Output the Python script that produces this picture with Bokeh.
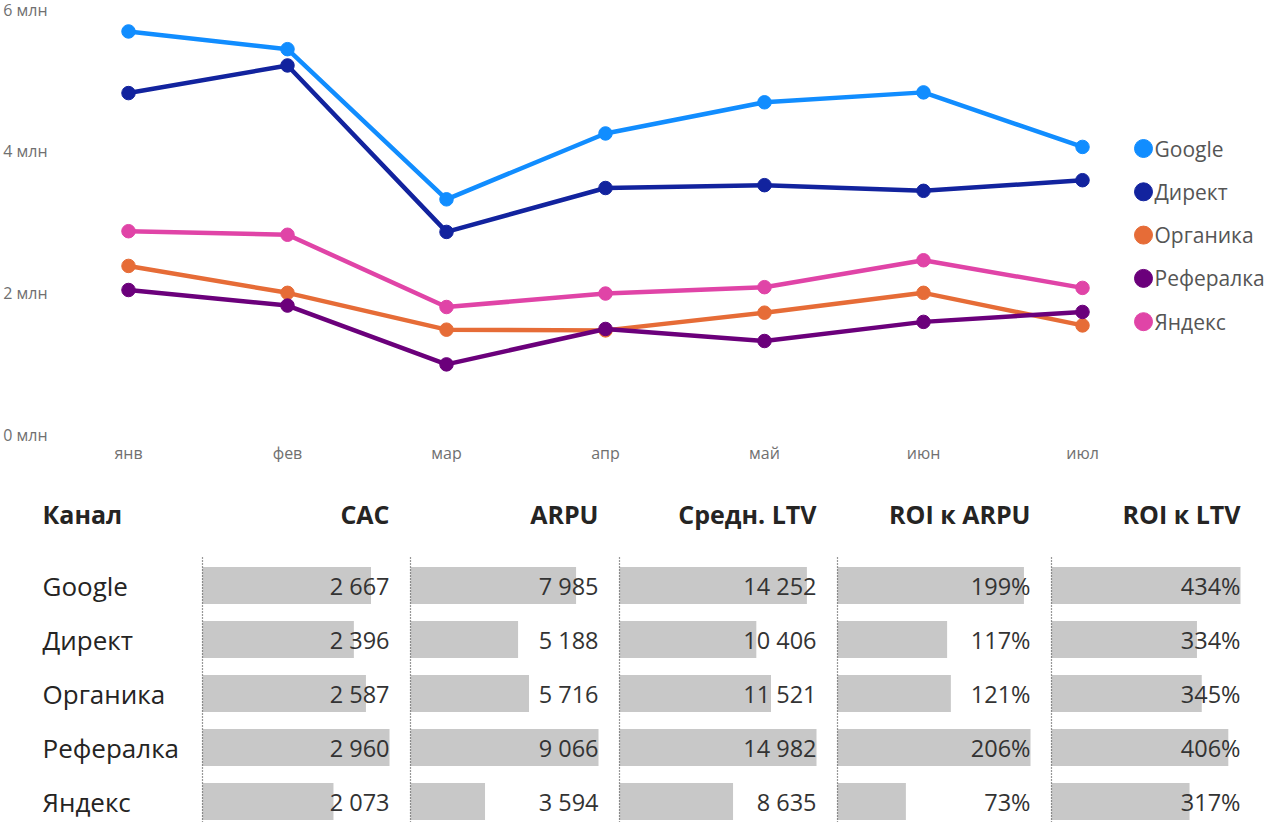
from bokeh.plotting import figure
from bokeh.models import Range1d, ColumnDataSource
from bokeh.layouts import column
from bokeh.core.properties import value
from bokeh.embed import file_html
from bokeh.resources import INLINE

# ---------------- data ----------------
months = ["янв", "фев", "мар", "апр", "май", "июн", "июл"]
channels = ["Google", "Директ", "Органика", "Рефералка", "Яндекс"]
colors = ["#118DFF", "#12239E", "#E66C37", "#6B007B", "#E044A7"]

# monthly revenue, million rubles
google = [5.69, 5.44, 3.32, 4.25, 4.69, 4.83, 4.06]
direkt = [4.82, 5.21, 2.86, 3.48, 3.52, 3.44, 3.59]
organika = [2.38, 2.00, 1.48, 1.47, 1.72, 2.00, 1.54]
referal = [2.04, 1.82, 0.99, 1.49, 1.32, 1.59, 1.73]
yandex = [2.87, 2.82, 1.80, 1.99, 2.08, 2.46, 2.07]
series = [google, direkt, organika, referal, yandex]

y_ticks = [0, 2, 4, 6]
y_tick_labels = ["0 млн", "2 млн", "4 млн", "6 млн"]

# table
headers = ["Канал", "CAC", "ARPU", "Средн. LTV", "ROI к ARPU", "ROI к LTV"]
cac = [2667, 2396, 2587, 2960, 2073]
arpu = [7985, 5188, 5716, 9066, 3594]
ltv = [14252, 10406, 11521, 14982, 8635]
roi_arpu = [199, 117, 121, 206, 73]
roi_ltv = [434, 334, 345, 406, 317]
metrics = [cac, arpu, ltv, roi_arpu, roi_ltv]
is_pct = [False, False, False, True, True]

FONT = "Open Sans"
W = 1264

# ---------------- line chart ----------------
TOP_H = 462
PX_MONTH = 159.0
X0 = 128.0        # px of first month
Y0 = 434.0        # px of zero
Y6 = 9.0          # px of 6 mln
PX_M = (Y0 - Y6) / 6.0

xs = -X0 / PX_MONTH
xe = xs + W / PX_MONTH
ys = -(TOP_H - Y0) / PX_M
ye = ys + TOP_H / PX_M

p = figure(width=W, height=TOP_H, output_backend="svg", toolbar_location=None,
           x_range=Range1d(xs, xe), y_range=Range1d(ys, ye),
           x_axis_location=None, y_axis_location=None, min_border=0)
p.outline_line_color = None
p.grid.visible = False
p.background_fill_color = "white"
p.border_fill_color = "white"

idx = list(range(len(months)))
for name, vals, col in zip(channels, series, colors):
    src = ColumnDataSource(dict(x=idx, y=vals))
    p.line("x", "y", source=src, line_color=col, line_width=4.5)
    p.scatter("x", "y", source=src, size=13.5, fill_color=col, line_color=col)

# pixel-space helpers for axis labels and the legend
p.extra_x_ranges = {"px": Range1d(0, W)}
p.extra_y_ranges = {"py": Range1d(TOP_H, 0)}

MONTH_Y = 452
p.text(idx, [MONTH_Y] * len(idx), text=months, y_range_name="py",
       text_font=value(FONT), text_font_size="16px", text_color="#707070",
       text_baseline="middle", text_align="center")
p.text([47] * len(y_ticks), y_ticks, text=y_tick_labels, x_range_name="px",
       text_font=value(FONT), text_font_size="16px", text_color="#707070",
       text_baseline="middle", text_align="right")

LEG_X = 1143
LEG_Y0 = 148
LEG_DY = 43.3
leg_y = [LEG_Y0 + i * LEG_DY for i in range(len(channels))]
leg = ColumnDataSource(dict(x=[LEG_X] * len(channels), y=leg_y, c=colors, t=channels,
                            tx=[LEG_X + 11] * len(channels)))
p.scatter("x", "y", source=leg, size=18, fill_color="c", line_color="c",
          x_range_name="px", y_range_name="py")
p.text("tx", "y", text="t", source=leg, x_range_name="px", y_range_name="py",
       text_font=value(FONT), text_font_size="21px", text_color="#555555",
       text_baseline="middle", text_align="left")

# ---------------- table ----------------
TH = 360
t = figure(width=W, height=TH, output_backend="svg", toolbar_location=None,
           x_range=Range1d(0, W), y_range=Range1d(TH, 0),
           x_axis_location=None, y_axis_location=None,
           min_border=0)
t.outline_line_color = None
t.grid.visible = False

ROW0 = 123.0
PITCH = 54.0
BAR_H = 37.0
t.extra_y_ranges = {"rows": Range1d((TH - ROW0) / PITCH, -ROW0 / PITCH)}
rows = list(range(len(channels)))

col_left = [202, 410, 619, 837, 1051]
col_right = [389, 598, 816, 1030, 1240]
NAME_X = 42
HEAD_Y = 51
LINE_TOP = 95

t.text([NAME_X], [HEAD_Y], text=[headers[0]], text_font=value(FONT), text_font_size="25px",
       text_font_style="bold", text_color="#252423", text_baseline="middle")
t.text([NAME_X] * len(channels), rows, text=channels, y_range_name="rows",
       text_font=value(FONT), text_font_size="26px", text_color="#252423",
       text_baseline="middle")

for k, (vals, pct) in enumerate(zip(metrics, is_pct)):
    a, b = col_left[k], col_right[k]
    mx = max(vals)
    rng = Range1d(-a * mx / (b - a), (W - a) * mx / (b - a))
    nm = f"c{k}"
    t.extra_x_ranges[nm] = rng
    t.hbar(y=rows, left=0, right=vals, height=BAR_H / PITCH, fill_color="#C8C8C8",
           line_color=None, x_range_name=nm, y_range_name="rows")
    t.segment(x0=[0], x1=[0], y0=[LINE_TOP], y1=[TH], line_color="#333333",
              line_width=1.2, line_dash="1 2", x_range_name=nm)
    labels = [f"{v}%" if pct else f"{v:,}".replace(",", " ") for v in vals]
    t.text([mx] * len(vals), rows, text=labels, x_range_name=nm, y_range_name="rows",
           text_font=value(FONT), text_font_size="23.5px", text_color="#333333",
           text_baseline="middle", text_align="right")
    t.text([mx], [HEAD_Y], text=[headers[k + 1]], x_range_name=nm,
           text_font=value(FONT), text_font_size="25px", text_font_style="bold",
           text_color="#252423", text_baseline="middle", text_align="right")

layout = column(p, t, spacing=0)
open("out.html", "w").write(file_html(layout, INLINE))
